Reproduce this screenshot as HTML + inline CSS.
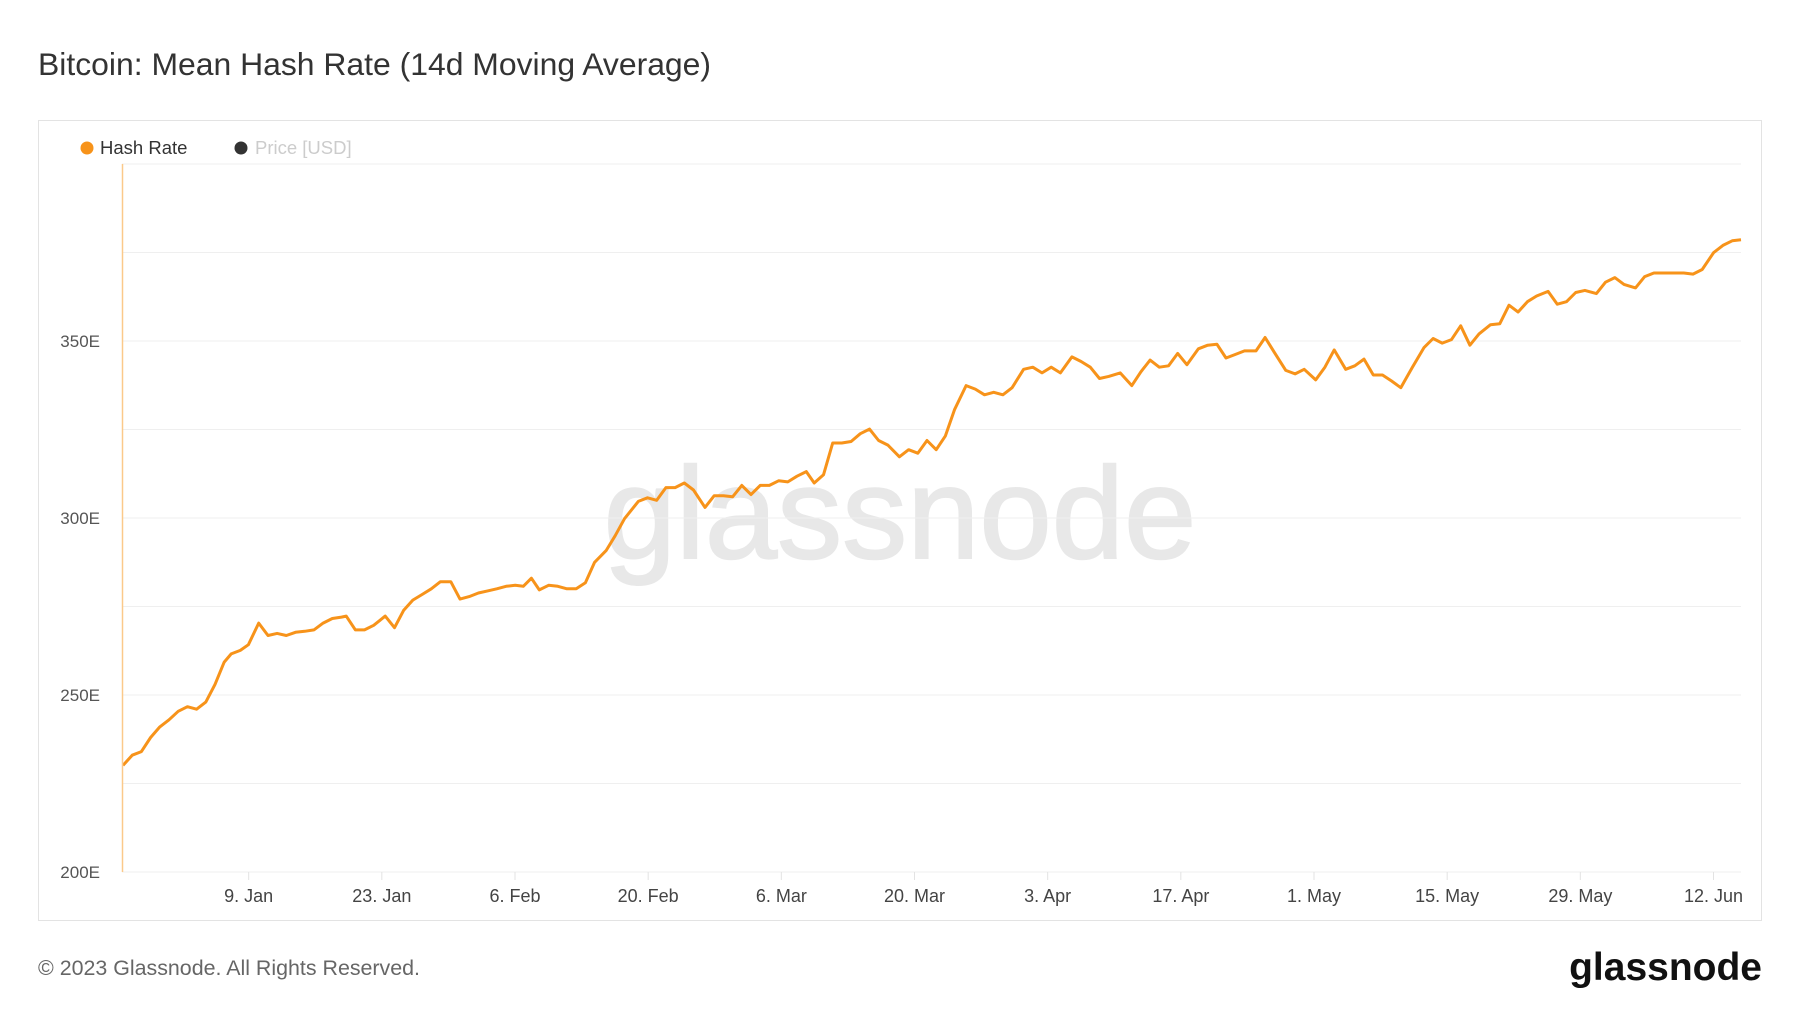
<!DOCTYPE html>
<html><head><meta charset="utf-8"><style>
body{margin:0;background:#fff;width:1800px;height:1013px;overflow:hidden;font-family:"Liberation Sans",sans-serif}
</style></head><body>
<svg id="chart" width="1800" height="1013" xmlns="http://www.w3.org/2000/svg">
<text x="38" y="75" font-size="31.9" fill="#333">Bitcoin: Mean Hash Rate (14d Moving Average)</text>
<rect x="38.5" y="120.5" width="1723" height="800" fill="none" stroke="#e3e3e3"/>
<g><circle cx="87" cy="148" r="6.5" fill="#f7931a"/><text x="100" y="154" font-size="18.5" fill="#333">Hash Rate</text></g>
<g><circle cx="241" cy="148" r="6.5" fill="#333"/><text x="255" y="154" font-size="18.5" fill="#ccc">Price [USD]</text></g>
<text x="900" y="558" font-size="130" fill="#e8e8e8" stroke="#e8e8e8" stroke-width="2" text-anchor="middle">glassnode</text>
<g id="grid"></g><g id="yt"></g><g id="xt"></g><g id="series"></g>
<line x1="122.5" y1="164" x2="122.5" y2="872" stroke="#fbc98a" stroke-width="1.5"/>
<text x="38" y="975" font-size="21.4" fill="#666">© 2023 Glassnode. All Rights Reserved.</text>
<text x="1762" y="980" font-size="39" font-weight="bold" fill="#111" text-anchor="end">glassnode</text>
</svg>
<script>
const yTicks=[200,250,300,350];
const gridValues=[200,225,250,275,300,325,350,375,400];
const xTickLabels=["9. Jan","23. Jan","6. Feb","20. Feb","6. Mar","20. Mar","3. Apr","17. Apr","1. May","15. May","29. May","12. Jun"];
const xTickDays=[13,27,41,55,69,83,97,111,125,139,153,167];
const days=[0,0.97,1.93,2.9,3.87,4.84,5.8,6.77,7.74,8.7,9.67,10.64,11.37,12.33,13.18,14.27,15.24,16.2,17.17,18.14,19.1,20.07,21.04,22,22.97,23.46,24.43,25.39,26.36,27.57,28.54,29.5,30.47,31.44,32.41,33.37,34.46,35.43,36.4,37.36,38.33,39.3,40.27,41.23,42.08,42.93,43.77,44.74,45.71,46.67,47.64,48.61,49.58,50.79,51.75,52.72,54.17,55.14,56.11,57.07,58.04,59.01,59.98,61.19,62.15,63.12,64.09,65.05,66.02,66.99,67.96,68.92,69.89,70.86,71.83,72.67,73.64,74.61,75.57,76.54,77.51,78.48,79.44,80.41,81.62,82.59,83.56,84.52,85.49,86.46,87.42,88.63,89.6,90.57,91.54,92.5,93.47,94.68,95.65,96.61,97.58,98.55,99.76,100.73,101.69,102.66,103.63,104.84,106.05,107.01,107.98,108.95,109.92,110.88,111.85,113.06,114.03,115,115.96,116.93,117.9,119.11,120.07,121.04,122.25,123.22,124.18,125.39,126.36,127.33,128.54,129.5,130.47,131.44,132.41,133.37,134.34,135.55,136.76,137.73,138.69,139.66,140.63,141.6,142.56,143.77,144.74,145.71,146.67,147.64,148.61,149.82,150.79,151.75,152.72,153.69,154.9,155.86,156.83,157.8,159.01,159.98,160.94,161.91,163.12,164.09,165.05,166.02,167.23,168.2,169.17,170.1];
const hashRate=[230.1,233,234,238,241,243,245.4,246.7,246,248,253,259.3,261.6,262.6,264.2,270.3,266.8,267.4,266.8,267.7,268,268.4,270.3,271.6,272,272.3,268.4,268.4,269.7,272.3,269,273.9,276.8,278.4,280,282,282,277.1,277.8,278.8,279.4,280,280.7,281,280.7,283,279.7,281,280.7,280,280,281.7,287.5,290.8,295,299.8,304.7,305.7,305,308.6,308.6,309.9,307.9,303,306.3,306.3,306,309.2,306.6,309.2,309.2,310.5,310.2,311.8,313.1,309.9,312.2,321.2,321.2,321.6,323.8,325.1,321.9,320.6,317.3,319.3,318.3,321.9,319.3,323.2,330.6,337.4,336.4,334.8,335.5,334.8,336.8,342,342.6,341,342.6,341,345.5,344.2,342.6,339.4,340,341,337.4,341.3,344.6,342.6,343,346.5,343.3,347.8,348.8,349.1,345.2,346.2,347.2,347.2,351,346.8,341.7,340.7,342,339,342.6,347.5,342,343,344.9,340.4,340.4,338.7,336.8,342.6,348.1,350.7,349.4,350.4,354.3,348.8,352,354.6,354.9,360.1,358.2,361.1,362.7,364,360.4,361.1,363.7,364.3,363.4,366.6,367.9,366,365,368.2,369.2,369.2,369.2,369.2,368.9,370.2,375,377,378.3,378.6];
const X0=123,X1=1741,D1=170.1,Y0=872,Y1=164;
const xs=d=>X0+(d/D1)*(X1-X0);
const ys=v=>Y0-(v-200)/200*(Y0-Y1);
const NS="http://www.w3.org/2000/svg";
const mk=(t,a)=>{const e=document.createElementNS(NS,t);for(const k in a)e.setAttribute(k,a[k]);return e;};
const g=document.getElementById('grid');
gridValues.forEach(v=>{const l=mk('line',{x1:122,x2:1741,y1:ys(v),y2:ys(v),stroke:'#efefef','stroke-width':1});


g.appendChild(l);});
const yt=document.getElementById('yt');
yTicks.forEach(v=>{const t=mk('text',{x:100,y:ys(v)+6,'font-size':17,fill:'#555','text-anchor':'end'});t.textContent=v+'E';


yt.appendChild(t);});
const xt=document.getElementById('xt');
xTickLabels.forEach((s,i)=>{const x=xs(xTickDays[i])+2;
const l=mk('line',{x1:x,x2:x,y1:872,y2:880,stroke:'#e3e3e3'});


xt.appendChild(l);
const t=mk('text',{x:x,y:902,'font-size':18,fill:'#444','text-anchor':'middle'});t.textContent=s;


xt.appendChild(t);});
const p=mk('path',{d:days.map((d,i)=>(i?'L':'M')+xs(d).toFixed(1)+','+ys(hashRate[i]).toFixed(1)).join(''),fill:'none',stroke:'#f7931a','stroke-width':3,'stroke-linejoin':'round'});


document.getElementById('series').appendChild(p);
</script>
</body></html>
